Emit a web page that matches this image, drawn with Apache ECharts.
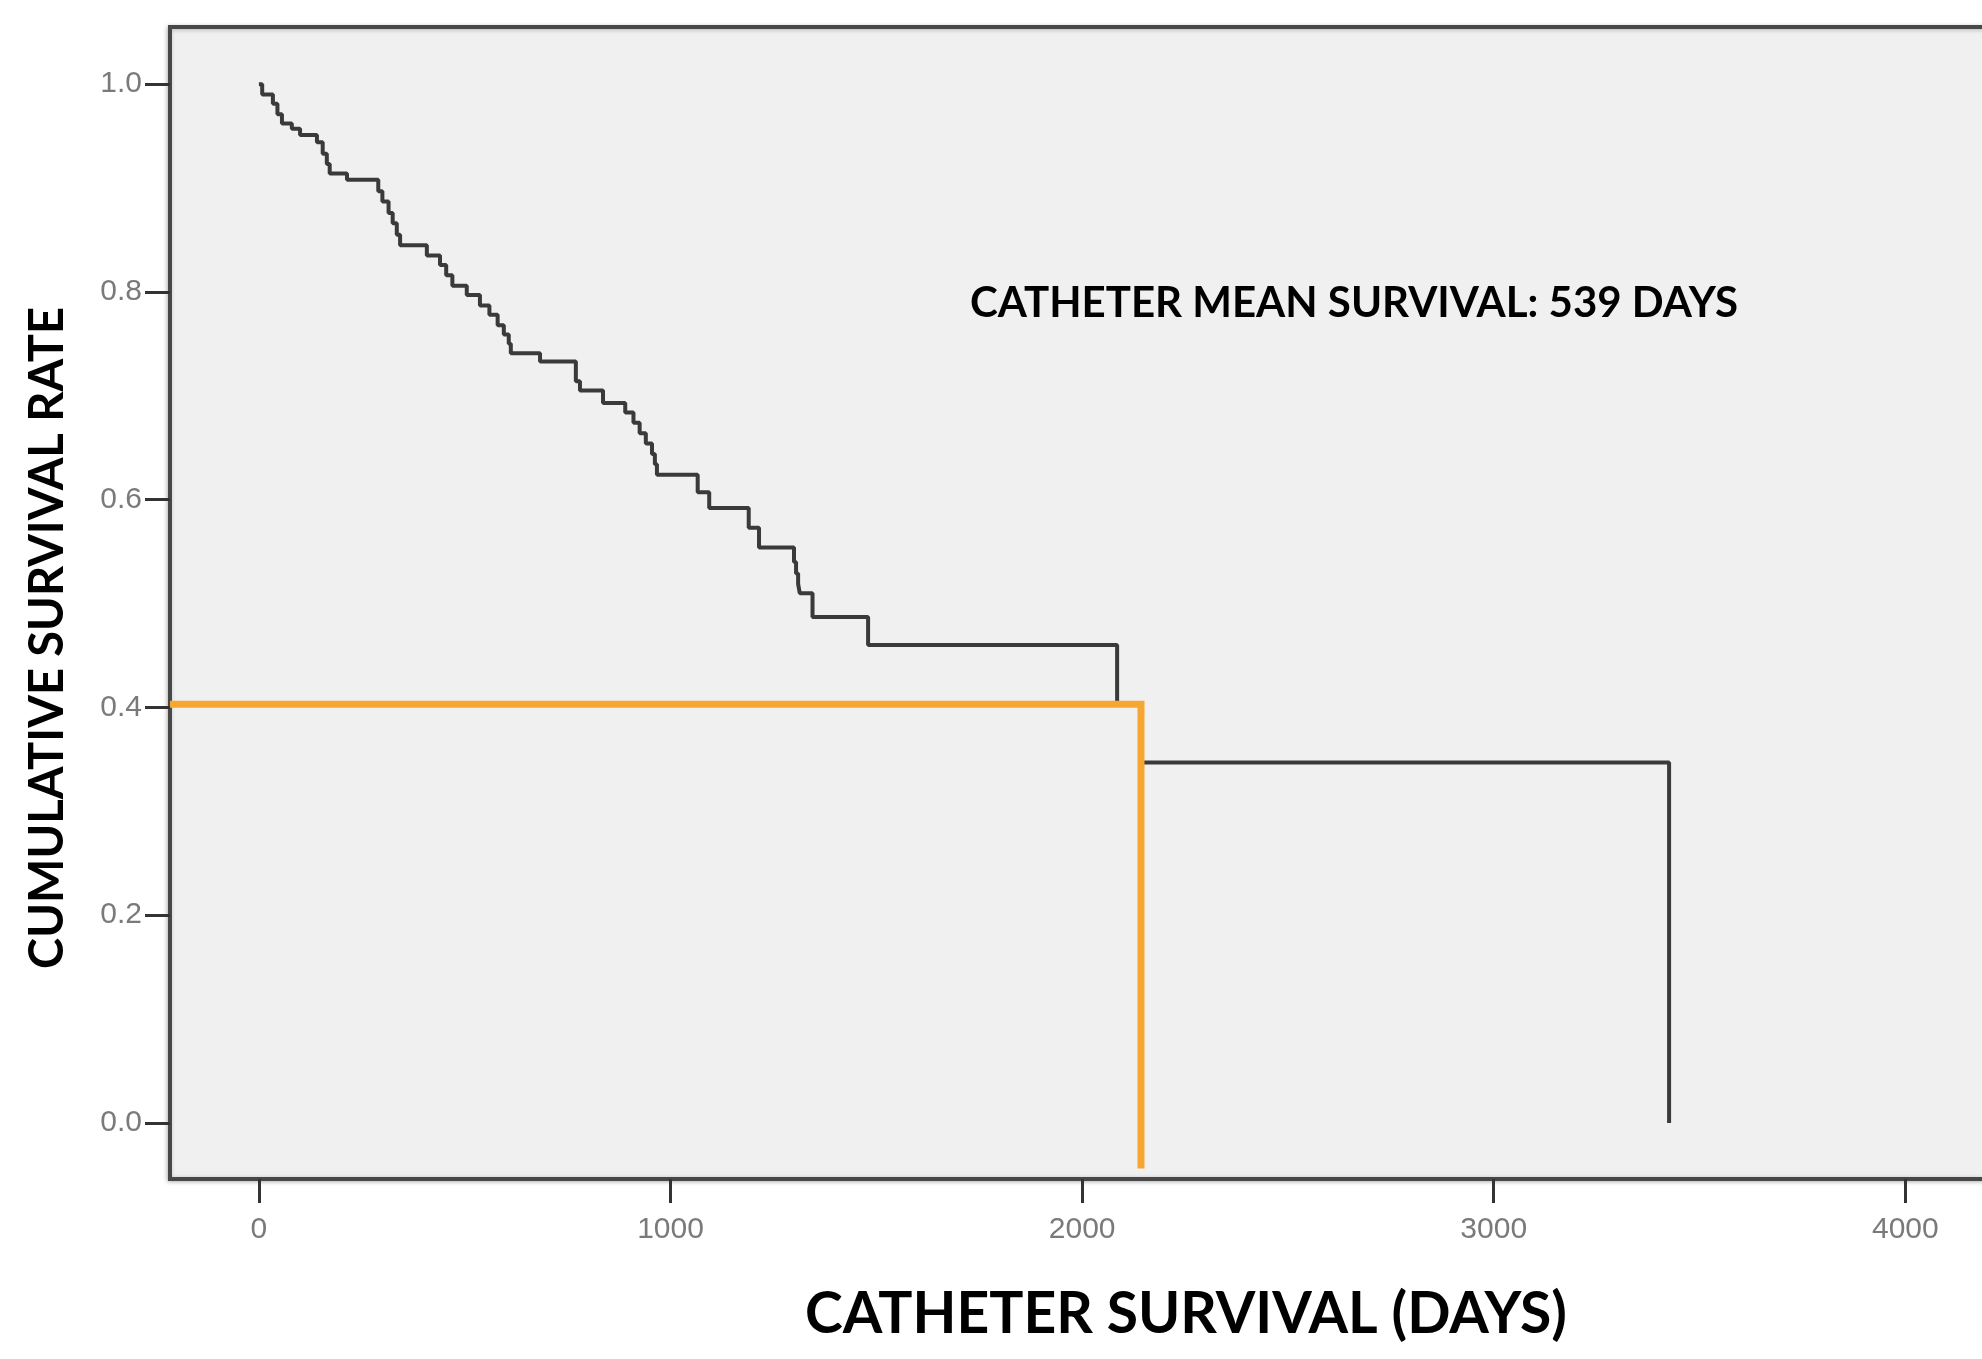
<!DOCTYPE html>
<html><head><meta charset="utf-8">
<script src="https://cdn.jsdelivr.net/npm/echarts@6/dist/echarts.min.js"></script>
<style>html,body{margin:0;padding:0;background:#fff}#c{width:1982px;height:1359px}</style>
</head><body><div id="c"></div>
<script>
// Kaplan-Meier step curve: event time (days) and cumulative survival after it
const kmDays = [0, 8, 34, 45, 56, 80, 100, 141, 155, 165, 172, 214, 290, 300, 315, 325, 335, 343, 408, 440, 455, 470, 505, 537, 560, 580, 595, 607, 612, 683, 770, 780, 836, 890, 910, 925, 940, 955, 962, 967, 1066, 1094, 1190, 1215, 1300, 1305, 1310, 1314, 1345, 1480, 2085, 2143, 3426];
const kmSurvival = [1.0, 0.990, 0.981, 0.971, 0.962, 0.957, 0.951, 0.944, 0.933, 0.923, 0.914, 0.908, 0.897, 0.887, 0.876, 0.866, 0.855, 0.845, 0.835, 0.826, 0.816, 0.806, 0.797, 0.787, 0.778, 0.768, 0.759, 0.750, 0.741, 0.733, 0.714, 0.705, 0.693, 0.684, 0.674, 0.664, 0.654, 0.644, 0.634, 0.624, 0.607, 0.592, 0.573, 0.554, 0.540, 0.529, 0.519, 0.510, 0.487, 0.460, 0.403, 0.347, 0.0];
// Orange reference line
const refDays = [-216, 2143, 2143];
const refRate = [0.403, 0.403, -0.044];
// Tick labels
const xTicks = [0, 1000, 2000, 3000, 4000];
const yTicks = [0, 0.2, 0.4, 0.6, 0.8, 1.0];
const xTitle = 'CATHETER SURVIVAL (DAYS)';
const yTitle = 'CUMULATIVE SURVIVAL RATE';
const note = 'CATHETER MEAN SURVIVAL: 539 DAYS';

const chart = echarts.init(document.getElementById('c'), null, {renderer: 'canvas'});
const tickStyle = {color: '#333', width: 3};
const labelFont = {color: '#7a7a7a', fontSize: 30, fontFamily: 'Liberation Sans'};
chart.setOption({
  backgroundColor: '#ffffff',
  animation: false,
  grid: {
    left: 170, top: 27, width: 1900, height: 1152,
    outerBoundsMode: 'none', containLabel: false,
    show: true, backgroundColor: '#f0f0f0', borderColor: '#484848', borderWidth: 4,
    shadowColor: 'rgba(0,0,0,0.25)', shadowBlur: 4, shadowOffsetX: -1, shadowOffsetY: 1
  },
  xAxis: {
    type: 'value', min: -216, max: 4400,
    splitLine: {show: false},
    axisLine: {show: false, onZero: false},
    axisTick: {show: true, customValues: xTicks, length: 24, inside: false, lineStyle: tickStyle},
    axisLabel: Object.assign({customValues: xTicks, margin: 36, formatter: v => String(v)}, labelFont)
  },
  yAxis: {
    type: 'value', min: -0.054, max: 1.055,
    splitLine: {show: false},
    axisLine: {show: false, onZero: false},
    axisTick: {show: true, customValues: yTicks, length: 25, inside: false, lineStyle: tickStyle},
    axisLabel: Object.assign({customValues: yTicks, margin: 28, formatter: v => v.toFixed(1)}, labelFont)
  },
  series: [
    {
      type: 'line', step: 'end', showSymbol: false, silent: true,
      lineStyle: {color: '#3a3a3a', width: 4},
      data: kmDays.map((d, i) => [d, kmSurvival[i]]),
      z: 2
    },
    {
      type: 'line', showSymbol: false, silent: true,
      lineStyle: {color: '#f7a72f', width: 7, join: 'miter', cap: 'butt'},
      data: refDays.map((d, i) => [d, refRate[i]]),
      z: 3
    }
  ],
  graphic: [
    {type: 'text', x: 1354, y: 303, style: {text: note, fill: '#000', fontSize: 42, fontWeight: 'bold', fontFamily: 'Lato', align: 'center', verticalAlign: 'middle'}},
    {type: 'text', x: 1186, y: 1315, style: {text: xTitle, fill: '#000', fontSize: 57, fontWeight: 'bold', fontFamily: 'Lato', align: 'center', verticalAlign: 'middle'}},
    {type: 'text', x: 48, y: 638, rotation: Math.PI / 2, style: {text: yTitle, fill: '#000', fontSize: 47, fontWeight: 'bold', fontFamily: 'Lato', align: 'center', verticalAlign: 'middle'}}
  ]
});
</script>
</body></html>
